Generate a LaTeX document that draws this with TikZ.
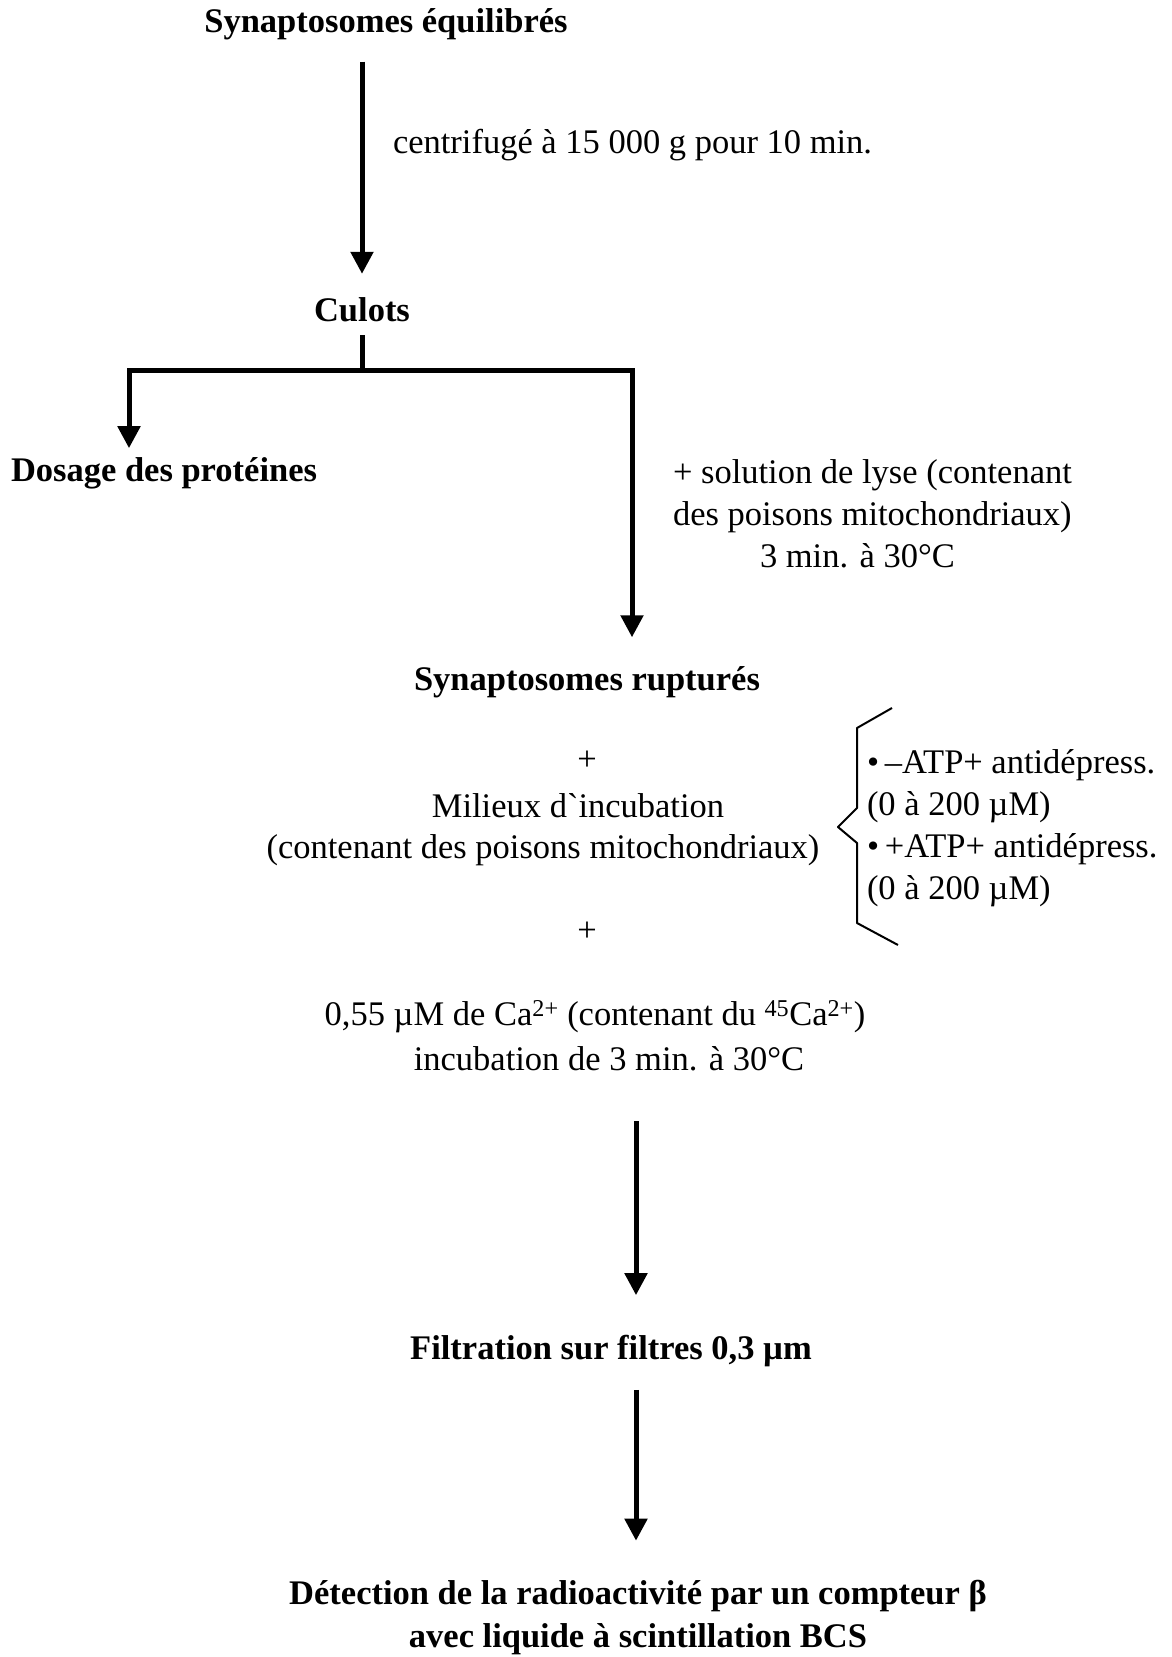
\documentclass[tikz,border=0pt]{standalone}
\usepackage{fontspec}
\setmainfont{Liberation Serif}
\usetikzlibrary{arrows.meta}
\begin{document}
\begin{tikzpicture}[x=1pt,y=-1pt,
  txt/.style={inner sep=0pt,outer sep=0pt,font=\fontsize{34.5}{42}\selectfont},
  btxt/.style={txt,font=\fontsize{34.5}{43}\selectfont\bfseries},
  line/.style={line width=5pt},
  arr/.style={line width=5pt,-{Triangle[width=22pt,length=22pt]}},
  brace/.style={line width=2pt,line join=round}]
\useasboundingbox (0,0) rectangle (1172,1657);
% nodes
\node[btxt] (syn) at (386,24) {Synaptosomes équilibrés};
\node[txt,anchor=west] (centr) at (393,145) {centrifugé à 15 000 g pour 10 min.};
\node[btxt] (culots) at (362,310) {Culots};
\node[btxt,anchor=west] (dosage) at (11,473) {Dosage des protéines};
\node[txt,anchor=west,align=left] (lyse) at (673,514) {+ solution de lyse (contenant\\des poisons mitochondriaux)\\\hspace*{87pt}3 min. à 30°C};
\node[btxt] (rupt) at (587,682) {Synaptosomes rupturés};
\node[txt] (plus1) at (587,761) {+};
\node[txt] (milieux) at (578,806) {Milieux d\textasciigrave incubation};
\node[txt] (cont) at (543,850) {(contenant des poisons mitochondriaux)};
\node[txt] (plus2) at (587,932) {+};
\node[txt,anchor=west,align=left] (list) at (867,828) {\textbullet\,–ATP+ antidépress.\\(0 à 200 µM)\\\textbullet\,+ATP+ antidépress.\\(0 à 200 µM)};
\node[txt] (ca) at (595,1017) {0,55 µM de Ca\textsuperscript{2+} (contenant du \textsuperscript{45}Ca\textsuperscript{2+})};
\node[txt] (incub) at (609,1059) {incubation de 3 min. à 30°C};
\node[btxt] (filt) at (611,1351) {Filtration sur filtres 0,3 µm};
\node[btxt,align=center] (det) at (638,1618) {Détection de la radioactivité par un compteur β\\avec liquide à scintillation BCS};
% coordinates
\coordinate (bar) at (362,370);
\coordinate (barL) at (129,370);
\coordinate (barR) at (632,370);
\coordinate (axis) at (636,0);
\coordinate (bA) at (892,708);
\coordinate (bB) at (857,728);
\coordinate (bC) at (857,808);
\coordinate (bT) at (838,827);
\coordinate (bD) at (857,843);
\coordinate (bE) at (857,923);
\coordinate (bF) at (898,945);
% connectors
\draw[arr,shorten <=22pt,shorten >=24pt] (syn.south -| culots) -- (culots.north);
\draw[line,shorten <=13pt] (culots.south) -- (bar);
\draw[arr,shorten >=9pt] (bar) -- (barL) -- (barL |- dosage.north);
\draw[arr,shorten >=29pt] (bar) -- (barR) -- (barR |- rupt.north);
\draw[brace] (bA) -- (bB) -- (bC) -- (bT) -- (bD) -- (bE) -- (bF);
\draw[arr,shorten <=50pt,shorten >=40pt] (incub.south -| axis) -- (filt.north -| axis);
\draw[arr,shorten <=23pt,shorten >=40pt] (filt.south -| axis) -- (det.north -| axis);
\end{tikzpicture}
\end{document}
